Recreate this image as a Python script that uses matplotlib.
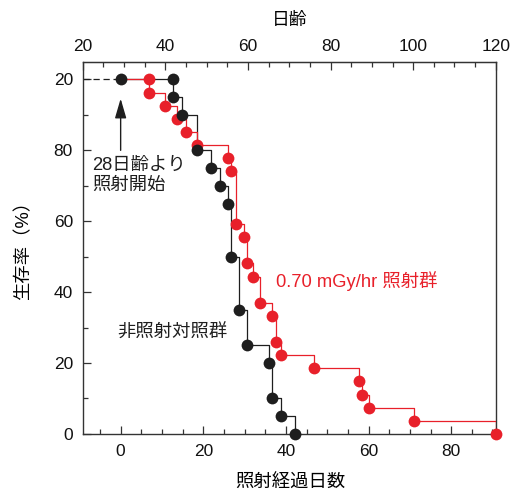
import matplotlib
matplotlib.use("Agg")
import matplotlib.pyplot as plt
from matplotlib.ticker import MultipleLocator, FixedLocator

plt.rcParams['font.family'] = ['Liberation Sans', 'Noto Sans CJK JP']

# --- data (days after start of irradiation, survival %) ---
ctrl_days = [0, 12.6, 12.6, 14.9, 18.6, 21.9, 24.0, 26.0, 26.8, 28.7, 30.7, 35.8, 36.7, 38.7, 42.1]
ctrl_surv = [100, 100, 95, 90, 80, 75, 70, 65, 50, 35, 25, 20, 10, 5, 0]

red_days = [0, 6.8, 6.8, 10.8, 13.7, 15.9, 18.6, 25.9, 26.8, 27.8, 29.8, 30.7, 32.1,
            33.8, 36.7, 37.7, 38.7, 46.7, 57.7, 58.5, 60.0, 70.9, 90.8]
red_surv = [100, 100, 96.3, 92.6, 88.9, 85.2, 81.5, 77.8, 74.1, 59.3, 55.6, 48.1, 44.4,
            37.0, 33.3, 25.9, 22.2, 18.5, 14.8, 11.1, 7.4, 3.7, 0]

ytick_vals = [0, 20, 40, 60, 80, 100]
ytick_text = ['0', '20', '40', '60', '80', '20']
age_ticks = [20, 40, 60, 80, 100, 120]
age_minor = list(range(20, 121, 5))
age_offset = 29.2  # top axis: age in days

RED = '#e8202a'
BLACK = '#1e1e1e'
SPINE = '#333333'
FS = 13.2

fig = plt.figure(figsize=(5.23, 4.93), dpi=100)
ax = fig.add_axes([0.158, 0.120, 0.790, 0.754])

# step curves
ax.plot(ctrl_days, ctrl_surv, drawstyle='steps-post', color=BLACK, lw=0.9, zorder=2)
ax.plot(red_days, red_surv, drawstyle='steps-post', color=RED, lw=0.9, zorder=3)
ax.plot([-9.2, 0], [100, 100], color=BLACK, lw=0.9, ls=(0, (5, 3)), zorder=2)

# markers
ax.plot(red_days[1:], red_surv[1:], 'o', color=RED, ms=8.5, mec='none', zorder=4, clip_on=False)
ax.plot(ctrl_days, ctrl_surv, 'o', color=BLACK, ms=8.5, mec='none', zorder=5, clip_on=False)

ax.set_xlim(-9.2, 90.8)
ax.set_ylim(0, 104.9)

ax.xaxis.set_major_locator(MultipleLocator(20))
ax.xaxis.set_minor_locator(MultipleLocator(5))
ax.set_yticks(ytick_vals)
ax.set_yticklabels(ytick_text)
ax.yaxis.set_minor_locator(MultipleLocator(10))
ax.tick_params(which='both', direction='in', color=SPINE, width=0.9, labelsize=12.5,
               labelcolor='#111111', right=False, top=False)
ax.tick_params(which='major', length=6, pad=7)
ax.tick_params(which='minor', length=3.5)
for s in ax.spines.values():
    s.set_color(SPINE)
    s.set_linewidth(1.0)

top = ax.secondary_xaxis('top', functions=(lambda x: x + age_offset, lambda x: x - age_offset))
top.xaxis.set_major_locator(FixedLocator(age_ticks))
top.xaxis.set_minor_locator(FixedLocator(age_minor))
top.tick_params(which='both', direction='in', color=SPINE, width=0.9, labelsize=12.5,
                labelcolor='#111111')
top.tick_params(which='major', length=6, pad=6)
top.tick_params(which='minor', length=3.5)
top.spines['top'].set_color(SPINE)

# arrow marking start of irradiation
ax.annotate('', xy=(0, 94.6), xytext=(0, 80),
            arrowprops=dict(arrowstyle='-|>,head_length=1.2,head_width=0.35',
                            color=BLACK, lw=1.0, shrinkA=0, shrinkB=0))

ax.text(-7.0, 78.3, '28日齢より\n照射開始', fontsize=FS, color=BLACK,
        va='top', ha='left', linespacing=1.3)
ax.text(37.5, 43.2, '0.70 mGy/hr 照射群', fontsize=FS, color=RED, va='center', ha='left')
ax.text(-0.7, 28.5, '非照射対照群', fontsize=FS, color=BLACK, va='center', ha='left')

fig.text(290 / 523, 1 - 483 / 493, '照射経過日数', fontsize=FS, ha='center', va='center')
fig.text(290 / 523, 1 - 20 / 493, '日齢', fontsize=12.8, ha='center', va='center')
fig.text(24 / 523, 1 - 246 / 493, '生存率（%）', fontsize=FS, ha='center', va='center',
         rotation=90)

fig.savefig('out.png', dpi=100)
